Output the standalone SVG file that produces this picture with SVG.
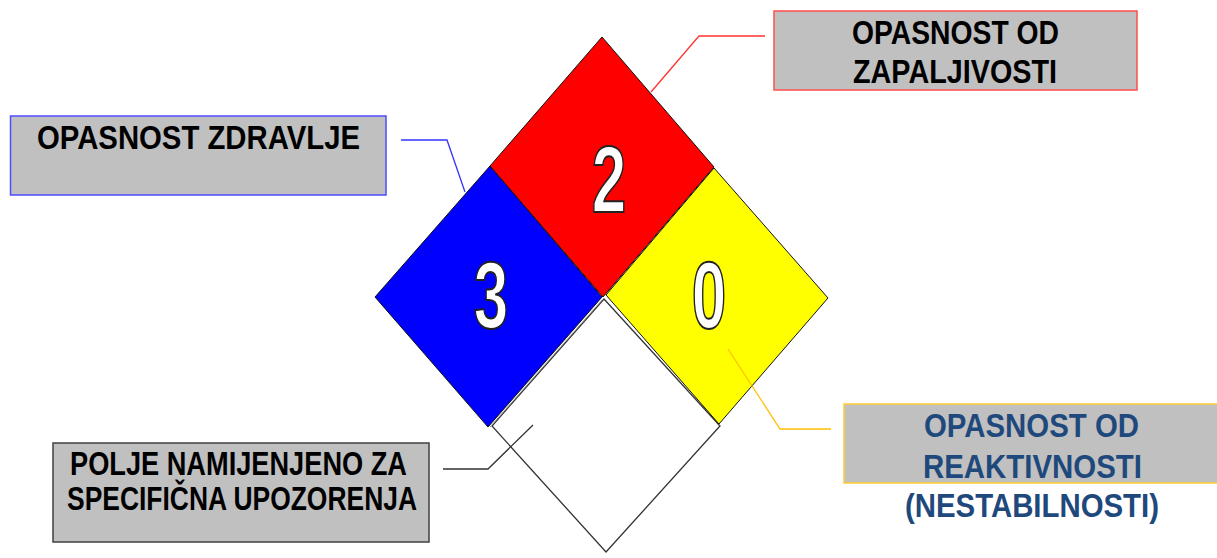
<svg xmlns="http://www.w3.org/2000/svg" width="1217" height="558" viewBox="0 0 1217 558">
<style>
.lbl{font-family:"Liberation Sans Narrow","Liberation Sans",Arial,sans-serif;font-weight:bold;font-size:34px;text-anchor:middle}
.num{font-family:"Liberation Sans",Arial,sans-serif;font-weight:bold;font-size:94px;text-anchor:middle;fill:#fff;stroke:#222;stroke-width:2}
.box{fill:#c0c0c0;stroke-width:1.5}
.cn{fill:none;stroke-width:1.3}
</style>
<rect width="1217" height="558" fill="#fff"/>
<g id="diamond">
<g id="white-field"><polygon points="604,299 720,426 606,552 492,426" fill="#fff" stroke="#333" stroke-width="1.3"/><line x1="602" y1="300" x2="490" y2="427" stroke="#999" stroke-width="1"/></g>
<g id="health"><polygon points="490,166 602,297 488,427 375,297" fill="#0000ff" stroke="#111" stroke-width="1"/><text class="num" transform="translate(491,328) scale(0.66,1)">3</text></g>
<g id="flammability"><polygon points="602,37 714,167 603,297 490,166" fill="#ff0000" stroke="#111" stroke-width="1"/><text class="num" transform="translate(609,212) scale(0.66,1)">2</text></g>
<g id="reactivity"><polygon points="714,168 828,298 719,424 606,295" fill="#ffff00" stroke="#111" stroke-width="1"/><text class="num" transform="translate(709,328) scale(0.66,1)">0</text></g>
</g>
<g id="connectors">
<polyline class="cn" points="401,140 447,140 465,192" stroke="#3333ff"/>
<polyline class="cn" points="765,36 699,36 651,92" stroke="#ff3333"/>
<polyline class="cn" points="831,429 780,429 728,349" stroke="#ffc000"/>
<polyline class="cn" points="443,469 488,469 533,425" stroke="#333"/>
</g>
<g id="label-health">
<rect class="box" x="10.5" y="116" width="375.5" height="79" stroke="#4d4dff"/>
<text class="lbl" x="198.5" y="149" textLength="323" lengthAdjust="spacingAndGlyphs" fill="#000">OPASNOST ZDRAVLJE</text>
</g>
<g id="label-flammability">
<rect class="box" x="774" y="11" width="363" height="79" stroke="#ff4d4d"/>
<text class="lbl" x="955.5" y="44" textLength="207" lengthAdjust="spacingAndGlyphs" fill="#000">OPASNOST OD</text>
<text class="lbl" x="955" y="83" textLength="204" lengthAdjust="spacingAndGlyphs" fill="#000">ZAPALJIVOSTI</text>
</g>
<g id="label-reactivity">
<rect class="box" x="844" y="404" width="375" height="79" stroke="#ffcc33"/>
<text class="lbl" x="1031.5" y="437" textLength="215" lengthAdjust="spacingAndGlyphs" fill="#1f497d">OPASNOST OD</text>
<text class="lbl" x="1032.5" y="478" textLength="219" lengthAdjust="spacingAndGlyphs" fill="#1f497d">REAKTIVNOSTI</text>
<text class="lbl" x="1032" y="517" textLength="254" lengthAdjust="spacingAndGlyphs" fill="#1f497d">(NESTABILNOSTI)</text>
</g>
<g id="label-specific">
<rect class="box" x="53" y="443" width="376" height="99" stroke="#404040"/>
<text class="lbl" x="238.5" y="475" textLength="337" lengthAdjust="spacingAndGlyphs" fill="#000">POLJE NAMIJENJENO ZA</text>
<text class="lbl" x="242" y="510" textLength="350" lengthAdjust="spacingAndGlyphs" fill="#000">SPECIFIČNA UPOZORENJA</text>
</g>
</svg>
